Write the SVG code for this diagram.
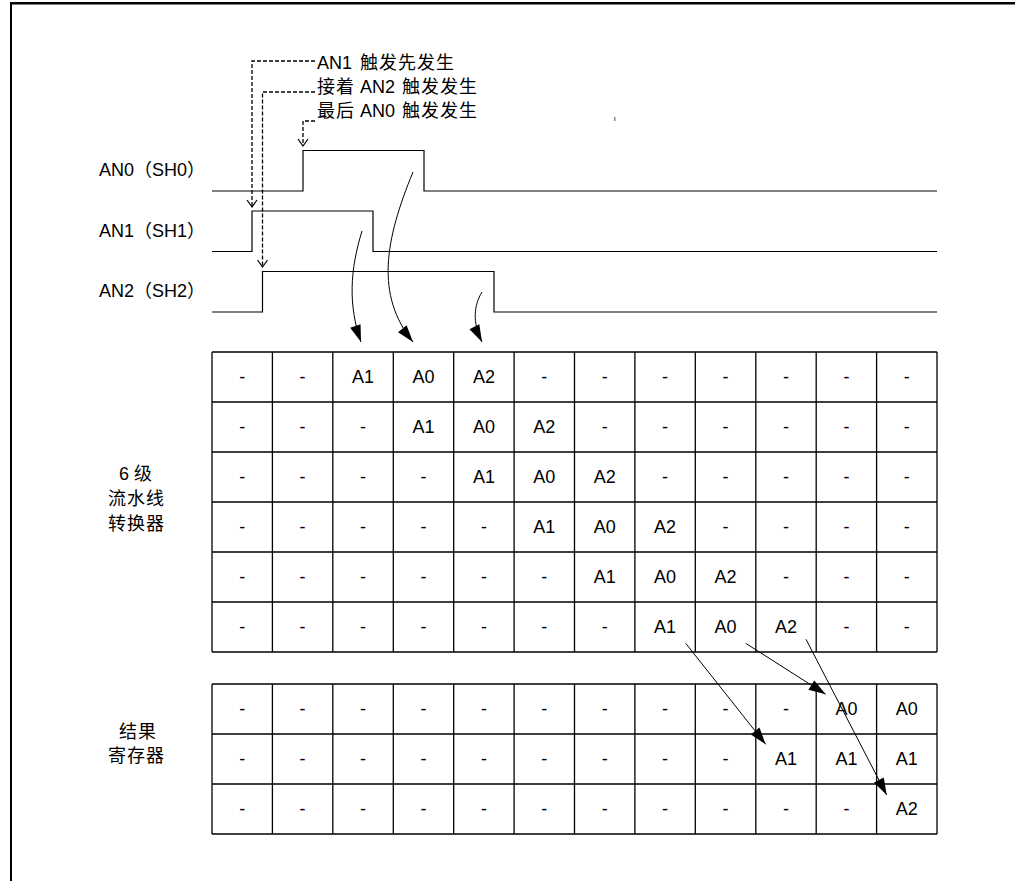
<svg xmlns="http://www.w3.org/2000/svg" width="1015" height="881" viewBox="0 0 1015 881">
<style>
.frame{stroke:#000;fill:none}
.sig{fill:none;stroke:#000;stroke-width:1.2}
.grid{fill:none;stroke:#000;stroke-width:1.3}
.dash{fill:none;stroke:#000;stroke-width:1.3;stroke-dasharray:4 2}
.arr{fill:none;stroke:#000;stroke-width:1}
.t{font-family:"Liberation Sans","Noto Sans CJK SC",sans-serif;font-size:18px;fill:#000}
.c{font-family:"Noto Sans CJK SC",sans-serif;font-size:18px;letter-spacing:1px}
.m{text-anchor:middle}
</style>
<defs>
<marker id="open" markerUnits="userSpaceOnUse" markerWidth="10" markerHeight="12" refX="7" refY="5" orient="auto" overflow="visible">
<path d="M0,0 L7,5 L0,10" fill="none" stroke="#000" stroke-width="1.2"/>
</marker>
<marker id="tri" markerUnits="userSpaceOnUse" markerWidth="17" markerHeight="11" refX="17" refY="5.5" orient="auto" overflow="visible">
<path d="M0,0 L17,5.5 L0,11 z" fill="#000"/>
</marker>
</defs>
<rect width="1015" height="881" fill="#fff"/>
<g id="frame">
<line class="frame" x1="10" y1="3.3" x2="1015" y2="3.3" stroke-width="2.5"/>
<line class="frame" x1="11" y1="2" x2="11" y2="881" stroke-width="2"/>
<rect x="614" y="117" width="1.5" height="4" fill="#888"/>
</g>
<g id="signals">
<g id="an0"><path class="sig" d="M212,191 H303 V150.5 H424 V191 H937"/><text class="t" x="99" y="176">AN0（SH0）</text></g>
<g id="an1"><path class="sig" d="M212,251.5 H252 V211 H373 V251.5 H937"/><text class="t" x="99" y="236.5">AN1（SH1）</text></g>
<g id="an2"><path class="sig" d="M212,312 H262.5 V271.5 H494 V312 H937"/><text class="t" x="99" y="297">AN2（SH2）</text></g>
</g>
<g id="notes">
<g id="note1"><text class="t" y="69"><tspan x="317">AN1</tspan><tspan class="c" x="360">触发先发生</tspan></text></g>
<g id="note2"><text class="t" y="93"><tspan class="c" x="317">接着</tspan><tspan x="360">AN2</tspan><tspan class="c" x="402">触发发生</tspan></text></g>
<g id="note3"><text class="t" y="117"><tspan class="c" x="317">最后</tspan><tspan x="360">AN0</tspan><tspan class="c" x="402">触发发生</tspan></text></g>
</g>
<g id="side-labels">
<g id="label-pipeline"><text class="t" y="480"><tspan x="119">6</tspan><tspan class="c" x="134">级</tspan></text><text class="t c" x="108" y="505">流水线</text><text class="t c" x="108" y="530">转换器</text></g>
<g id="label-result"><text class="t c" x="119" y="737.5">结果</text><text class="t c" x="108" y="762">寄存器</text></g>
</g>
<g id="pipeline">
<path class="grid" d="M212,352H937M212,402H937M212,452H937M212,502H937M212,552H937M212,602H937M212,652H937M212,352V652M272.4,352V652M332.8,352V652M393.3,352V652M453.7,352V652M514.1,352V652M574.5,352V652M634.9,352V652M695.3,352V652M755.8,352V652M816.2,352V652M876.6,352V652M937,352V652"/>
<g class="t m">
<text x="242.2" y="383">-</text><text x="302.6" y="383">-</text><text x="363" y="383">A1</text><text x="423.5" y="383">A0</text><text x="483.9" y="383">A2</text><text x="544.3" y="383">-</text><text x="604.7" y="383">-</text><text x="665.1" y="383">-</text><text x="725.6" y="383">-</text><text x="786" y="383">-</text><text x="846.4" y="383">-</text><text x="906.8" y="383">-</text>
<text x="242.2" y="433">-</text><text x="302.6" y="433">-</text><text x="363" y="433">-</text><text x="423.5" y="433">A1</text><text x="483.9" y="433">A0</text><text x="544.3" y="433">A2</text><text x="604.7" y="433">-</text><text x="665.1" y="433">-</text><text x="725.6" y="433">-</text><text x="786" y="433">-</text><text x="846.4" y="433">-</text><text x="906.8" y="433">-</text>
<text x="242.2" y="483">-</text><text x="302.6" y="483">-</text><text x="363" y="483">-</text><text x="423.5" y="483">-</text><text x="483.9" y="483">A1</text><text x="544.3" y="483">A0</text><text x="604.7" y="483">A2</text><text x="665.1" y="483">-</text><text x="725.6" y="483">-</text><text x="786" y="483">-</text><text x="846.4" y="483">-</text><text x="906.8" y="483">-</text>
<text x="242.2" y="533">-</text><text x="302.6" y="533">-</text><text x="363" y="533">-</text><text x="423.5" y="533">-</text><text x="483.9" y="533">-</text><text x="544.3" y="533">A1</text><text x="604.7" y="533">A0</text><text x="665.1" y="533">A2</text><text x="725.6" y="533">-</text><text x="786" y="533">-</text><text x="846.4" y="533">-</text><text x="906.8" y="533">-</text>
<text x="242.2" y="583">-</text><text x="302.6" y="583">-</text><text x="363" y="583">-</text><text x="423.5" y="583">-</text><text x="483.9" y="583">-</text><text x="544.3" y="583">-</text><text x="604.7" y="583">A1</text><text x="665.1" y="583">A0</text><text x="725.6" y="583">A2</text><text x="786" y="583">-</text><text x="846.4" y="583">-</text><text x="906.8" y="583">-</text>
<text x="242.2" y="633">-</text><text x="302.6" y="633">-</text><text x="363" y="633">-</text><text x="423.5" y="633">-</text><text x="483.9" y="633">-</text><text x="544.3" y="633">-</text><text x="604.7" y="633">-</text><text x="665.1" y="633">A1</text><text x="725.6" y="633">A0</text><text x="786" y="633">A2</text><text x="846.4" y="633">-</text><text x="906.8" y="633">-</text>
</g>
</g>
<g id="result">
<path class="grid" d="M212,684H937M212,734H937M212,784H937M212,834H937M212,684V834M272.4,684V834M332.8,684V834M393.3,684V834M453.7,684V834M514.1,684V834M574.5,684V834M634.9,684V834M695.3,684V834M755.8,684V834M816.2,684V834M876.6,684V834M937,684V834"/>
<g class="t m">
<text x="242.2" y="715">-</text><text x="302.6" y="715">-</text><text x="363" y="715">-</text><text x="423.5" y="715">-</text><text x="483.9" y="715">-</text><text x="544.3" y="715">-</text><text x="604.7" y="715">-</text><text x="665.1" y="715">-</text><text x="725.6" y="715">-</text><text x="786" y="715">-</text><text x="846.4" y="715">A0</text><text x="906.8" y="715">A0</text>
<text x="242.2" y="765">-</text><text x="302.6" y="765">-</text><text x="363" y="765">-</text><text x="423.5" y="765">-</text><text x="483.9" y="765">-</text><text x="544.3" y="765">-</text><text x="604.7" y="765">-</text><text x="665.1" y="765">-</text><text x="725.6" y="765">-</text><text x="786" y="765">A1</text><text x="846.4" y="765">A1</text><text x="906.8" y="765">A1</text>
<text x="242.2" y="815">-</text><text x="302.6" y="815">-</text><text x="363" y="815">-</text><text x="423.5" y="815">-</text><text x="483.9" y="815">-</text><text x="544.3" y="815">-</text><text x="604.7" y="815">-</text><text x="665.1" y="815">-</text><text x="725.6" y="815">-</text><text x="786" y="815">-</text><text x="846.4" y="815">-</text><text x="906.8" y="815">A2</text>
</g>
</g>
<g id="connectors">
<path class="dash" d="M315,61 H252 V207" marker-end="url(#open)"/>
<path class="dash" d="M315,92 H262.5 V267" marker-end="url(#open)"/>
<path class="dash" d="M315,121 H303 V146" marker-end="url(#open)"/>
<path class="arr" d="M362,231 C350,270 348,305 361,342" marker-end="url(#tri)"/>
<path class="arr" d="M413,172 C385,240 375,295 413,342" marker-end="url(#tri)"/>
<path class="arr" d="M482,292 C474,305 472,322 482,342" marker-end="url(#tri)"/>
<path class="arr" d="M685.7,643.3 L765.7,744.3" marker-end="url(#tri)"/>
<path class="arr" d="M745.7,643.3 L825.7,694.3" marker-end="url(#tri)"/>
<path class="arr" d="M806,639.3 L886.7,795" marker-end="url(#tri)"/>
</g>
</svg>
